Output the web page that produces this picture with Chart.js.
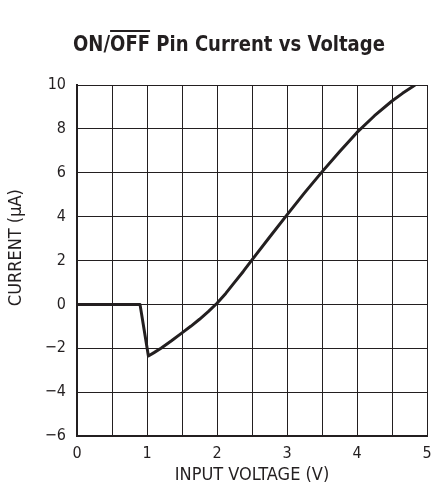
<!DOCTYPE html>
<html>
<head>
<meta charset="utf-8">
<script src="https://cdn.jsdelivr.net/npm/chart.js@4/dist/chart.umd.min.js"></script>
<style>
  html, body { margin: 0; padding: 0; background: #fff; }
  #wrap { position: relative; width: 432px; height: 498px; }
  #title {
    position: absolute; left: 0; top: 29px; width: 458px; text-align: center;
    font-family: "Liberation Sans Narrow", "DejaVu Sans Condensed", sans-serif;
    font-weight: bold; font-size: 21px; color: #231f20; line-height: 30px;
    transform: scaleX(0.955);
  }
  #title span { text-decoration: overline; }
</style>
</head>
<body>
<div id="wrap">
  <canvas id="chart" width="432" height="498"></canvas>
  <div id="title">ON/<span>OFF</span> Pin Current vs Voltage</div>
</div>
<script>
// curve (µA against V)
const voltage = [0, 0.5, 0.9, 1.02, 1.1, 1.2, 1.35, 1.5, 1.625, 1.75, 1.875, 2.0, 2.125, 2.25, 2.375, 2.5,
                 2.75, 3.0, 3.25, 3.5, 3.75, 4.0, 4.25, 4.5, 4.65, 4.83];
const current = [0, 0, 0, -2.35, -2.2, -2.0, -1.66, -1.3, -1.0, -0.68, -0.33, 0.05, 0.5, 1.0, 1.5, 2.03,
                 3.06, 4.08, 5.08, 6.04, 6.96, 7.84, 8.6, 9.27, 9.62, 10];

const xMin = 0, xMax = 5, xStep = 0.5;
const yMin = -6, yMax = 10, yStep = 2;

const font = "'Liberation Sans Narrow', 'DejaVu Sans Condensed', sans-serif";
const ink = '#231f20';

new Chart(document.getElementById('chart').getContext('2d'), {
    type: 'scatter',
    data: {
        datasets: [{
            data: voltage.map((v, i) => ({ x: v, y: current[i] })),
            showLine: true,
            borderColor: ink,
            borderWidth: 3,
            borderJoinStyle: 'round',
            pointRadius: 0,
            tension: 0,
            fill: false
        }]
    },
    options: {
        responsive: false,
        animation: false,
        layout: { padding: { left: 0, right: 5, top: 85, bottom: 0 } },
        plugins: { legend: { display: false }, tooltip: { enabled: false } },
        scales: {
            x: {
                type: 'linear', min: xMin, max: xMax,
                afterFit: s => { s.height = 62; s.paddingLeft = 0; s.paddingRight = 0; },
                border: { color: ink, width: 2 },
                grid: { color: ink, lineWidth: 1, drawTicks: false },
                ticks: {
                    stepSize: xStep, padding: 8, color: ink, maxRotation: 0, autoSkip: false,
                    font: { family: font, size: 16 },
                    callback: v => Number.isInteger(v) ? String(v) : ''
                },
                title: {
                    display: true, text: 'INPUT VOLTAGE (V)', color: ink,
                    font: { family: font, size: 18 }, padding: { top: 0, bottom: 12 }
                }
            },
            y: {
                type: 'linear', min: yMin, max: yMax,
                afterFit: s => { s.width = 77; },
                border: { color: ink, width: 2 },
                grid: { color: ink, lineWidth: 1, drawTicks: false },
                ticks: {
                    stepSize: yStep, padding: 11, color: ink,
                    font: { family: font, size: 16 },
                    callback: v => String(v).replace('-', '\u2212')
                },
                title: {
                    display: true, text: '     CURRENT (\u00b5A)', color: ink,
                    font: { family: font, size: 18 }, padding: { top: 6, bottom: 0 }
                }
            }
        }
    }
});
</script>
</body>
</html>
